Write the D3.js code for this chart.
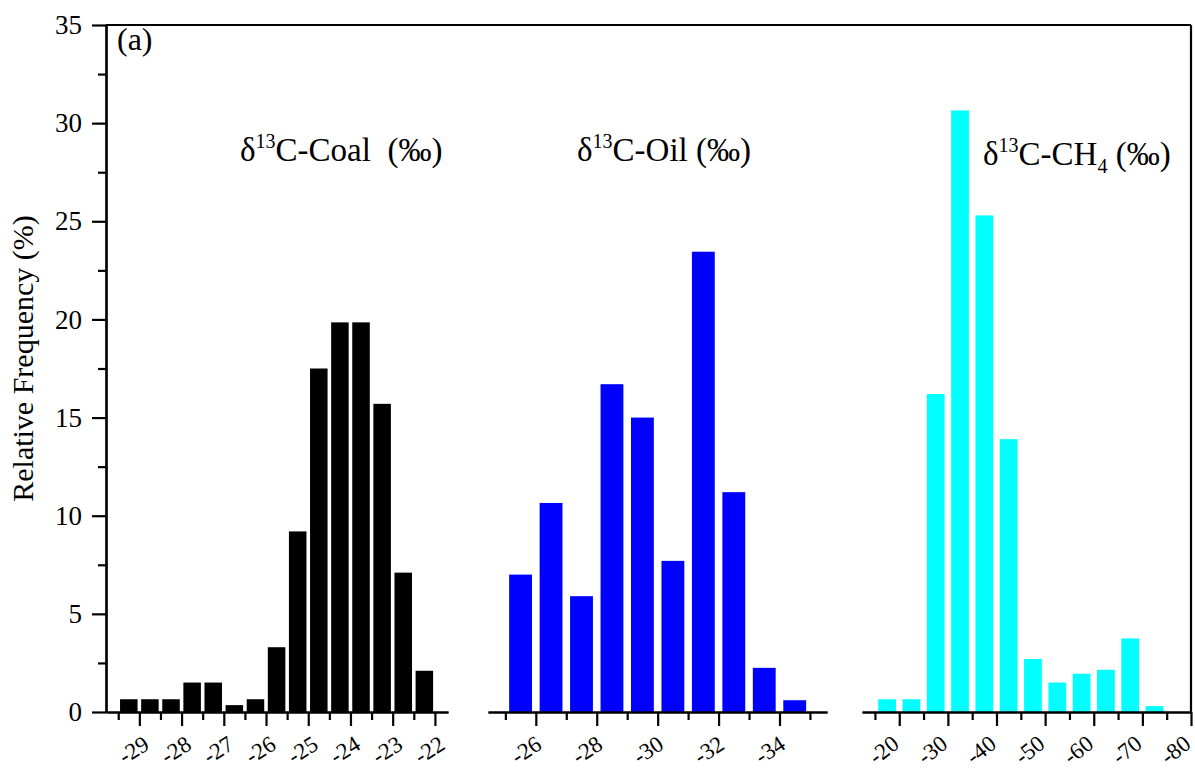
<!DOCTYPE html>
<html>
<head>
<meta charset="utf-8">
<script src="https://cdn.jsdelivr.net/npm/d3@7"></script>
<style>
  body { margin: 0; background: #fff; }
  svg text { font-family: "Liberation Serif", "Times New Roman", serif; fill: #000; }
  .axis path, .axis line { stroke: #000; stroke-width: 2.2px; }
  .axis text { font-size: 23px; font-family: "Liberation Serif", serif; }
</style>
</head>
<body>
<div id="chart"></div>
<script>
// bin centres (per mil) and relative frequency (%)
const coalBins = [-29.25, -28.75, -28.25, -27.75, -27.25, -26.75, -26.25, -25.75, -25.25, -24.75, -24.25, -23.75, -23.25, -22.75, -22.25];
const coalFreq = [0.65, 0.65, 0.65, 1.5, 1.5, 0.35, 0.65, 3.3, 9.2, 17.5, 19.85, 19.85, 15.7, 7.1, 2.1];

const oilBins = [-25.5, -26.5, -27.5, -28.5, -29.5, -30.5, -31.5, -32.5, -33.5, -34.5];
const oilFreq = [7.0, 10.65, 5.9, 16.7, 15.0, 7.7, 23.45, 11.2, 2.25, 0.6];

const ch4Bins = [-17.5, -22.5, -27.5, -32.5, -37.5, -42.5, -47.5, -52.5, -57.5, -62.5, -67.5, -72.5];
const ch4Freq = [0.65, 0.65, 16.2, 30.65, 25.3, 13.9, 2.7, 1.5, 1.95, 2.15, 3.75, 0.3];

// tick values
const yTicks = [0, 5, 10, 15, 20, 25, 30, 35];
const yMinor = [2.5, 7.5, 12.5, 17.5, 22.5, 27.5, 32.5];
const coalTicks = [-29, -28, -27, -26, -25, -24, -23, -22];
const coalMinor = [-29.5, -28.5, -27.5, -26.5, -25.5, -24.5, -23.5, -22.5];
const oilTicks = [-26, -28, -30, -32, -34];
const oilMinor = [-25, -27, -29, -31, -33, -35];
const ch4Ticks = [-20, -30, -40, -50, -60, -70, -80];
const ch4Minor = [-15, -25, -35, -45, -55, -65, -75];

const width = 1195, height = 771;
const yTop = 25, yBottom = 712, xLeft = 106, xRight = 1191;

const svg = d3.select('#chart').append('svg')
  .attr('width', width)
  .attr('height', height);

const yScale = d3.scaleLinear()
  .domain([0, 35])
  .range([yBottom, yTop]);

// three panels share the y axis, each with its own x axis
const panels = [
  {bins: coalBins, freq: coalFreq, color: '#000000', domain: [-29.79, -21.69], range: [xLeft, 448],
    binW: 0.5, frac: 0.83, ticks: coalTicks, minor: coalMinor, shift: -6, rot: -32},
  {bins: oilBins, freq: oilFreq, color: '#0000ff', domain: [-24.43, -35.56], range: [488, 827],
    binW: 1, frac: 0.75, ticks: oilTicks, minor: oilMinor, shift: -10, rot: -33},
  {bins: ch4Bins, freq: ch4Freq, color: '#00ffff', domain: [-12.34, -80], range: [862, xRight],
    binW: 5, frac: 0.73, ticks: ch4Ticks, minor: ch4Minor, shift: -16, rot: -38}
];

panels.forEach(p => {
  const x = d3.scaleLinear().domain(p.domain).range(p.range);
  const half = p.binW * p.frac / 2;

  svg.append('g')
    .selectAll('rect')
    .data(p.bins.map((b, i) => ({bin: b, f: p.freq[i]})))
    .enter()
    .append('rect')
    .attr('x', d => Math.min(x(d.bin - half), x(d.bin + half)))
    .attr('width', d => Math.abs(x(d.bin + half) - x(d.bin - half)))
    .attr('y', d => yScale(d.f))
    .attr('height', d => yScale(0) - yScale(d.f))
    .attr('fill', p.color);

  // minor ticks first, then labelled major ticks
  svg.append('g')
    .attr('class', 'axis')
    .attr('transform', `translate(0,${yBottom})`)
    .call(d3.axisBottom(x).tickValues(p.minor).tickSize(8).tickSizeOuter(0).tickFormat(''));

  const ax = svg.append('g')
    .attr('class', 'axis')
    .attr('transform', `translate(0,${yBottom})`)
    .call(d3.axisBottom(x).tickValues(p.ticks).tickSize(14).tickSizeOuter(0)
      .tickFormat(d => String(d).replace('\u2212', '-')));

  ax.selectAll('.tick text')
    .attr('y', 0)
    .attr('dy', 0)
    .attr('text-anchor', 'middle')
    .attr('dominant-baseline', 'central')
    .attr('transform', `translate(${p.shift},38) rotate(${p.rot})`);
});

// y axis
svg.append('g')
  .attr('class', 'axis')
  .attr('transform', `translate(${xLeft},0)`)
  .call(d3.axisLeft(yScale).tickValues(yMinor).tickSize(8).tickSizeOuter(0).tickFormat(''));

svg.append('g')
  .attr('class', 'axis')
  .attr('transform', `translate(${xLeft},0)`)
  .call(d3.axisLeft(yScale).tickValues(yTicks).tickSize(14).tickSizeOuter(0))
  .selectAll('.tick text')
  .attr('x', -24)
  .style('font-size', '27px');

// frame top and right
svg.append('line')
  .attr('x1', xLeft).attr('y1', yTop).attr('x2', xRight).attr('y2', yTop)
  .attr('stroke', '#000').attr('stroke-width', 2.2);
svg.append('line')
  .attr('x1', xRight).attr('y1', yTop).attr('x2', xRight).attr('y2', yBottom)
  .attr('stroke', '#000').attr('stroke-width', 2.2);

svg.append('text')
  .attr('transform', `translate(33,${(yTop + yBottom) / 2 - 10}) rotate(-90)`)
  .attr('text-anchor', 'middle')
  .style('font-size', '30px')
  .text('Relative Frequency (%)');

svg.append('text')
  .attr('x', 117).attr('y', 50)
  .style('font-size', '32px')
  .text('(a)');

// panel titles with superscript / subscript
const nb = '\u00a0';
function title(x, y, name, sub, gap) {
  const t = svg.append('text').attr('x', x).attr('y', y).style('font-size', '33px');
  t.append('tspan').text('\u03b4');
  t.append('tspan').attr('dy', -13).style('font-size', '20px').text('13');
  t.append('tspan').attr('dy', 13).text('C-' + name);
  if (sub) {
    t.append('tspan').attr('dy', 8).style('font-size', '20px').text(sub);
    t.append('tspan').attr('dy', -8).text(gap + '(\u2030)');
  } else {
    t.append('tspan').text(gap + '(\u2030)');
  }
}
title(240, 161, 'Coal', null, nb + nb);
title(577, 161, 'Oil', null, nb);
title(983, 165, 'CH', '4', nb);
</script>
</body>
</html>
